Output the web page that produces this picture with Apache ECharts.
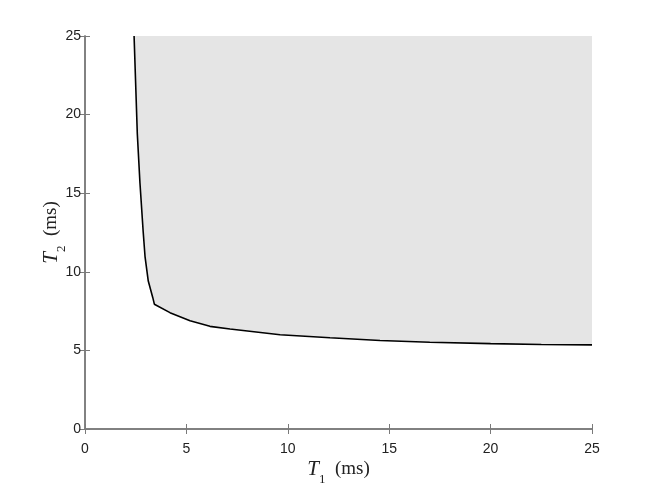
<!DOCTYPE html>
<html>
<head>
<meta charset="utf-8">
<script src="https://cdn.jsdelivr.net/npm/echarts@6/dist/echarts.min.js"></script>
<style>
  html, body { margin: 0; padding: 0; background: #fff; }
  #chart { width: 654px; height: 491px; }
</style>
</head>
<body>
<div id="chart"></div>
<script>
// boundary curve (T1, T2 in ms)
const t1Values = [2.42, 2.58, 2.71, 2.87, 2.96, 3.12, 3.34, 3.42, 4.19, 5.18, 6.16, 7.15, 9.62, 12.08, 14.55, 17.0, 20.0, 22.5, 25.0]
const t2Values = [25.0, 18.77, 15.65, 12.53, 10.97, 9.41, 8.37, 7.94, 7.40, 6.88, 6.53, 6.36, 6.0, 5.80, 5.63, 5.52, 5.43, 5.38, 5.35]

const boundary = t1Values.map((x, i) => [x, t2Values[i]])

const chart = echarts.init(document.getElementById('chart'))

// fresh objects for each axis
const frameLine = () => ({ show: true, lineStyle: { color: '#7a7a7a', width: 1.5 } })
// ticks pointing into the plot
const innerTick = () => ({ show: true, inside: true, length: 5, lineStyle: { color: '#7a7a7a', width: 1 } })
const labelStyle = { color: '#222', fontSize: 14, fontFamily: 'Liberation Sans, Arial, sans-serif' }

const titleRich = {
  t: { fontFamily: 'Liberation Serif, serif', fontStyle: 'italic', fontSize: 21, color: '#222', lineHeight: 24 },
  s: { fontFamily: 'Liberation Serif, serif', fontSize: 13, color: '#222', lineHeight: 24, verticalAlign: 'bottom', padding: [0, 0, -5, 0] },
  u: { fontFamily: 'Liberation Serif, serif', fontSize: 19, color: '#222', lineHeight: 24 }
}

const option = {
  animation: false,
  backgroundColor: '#fff',
  grid: { left: 85, right: 62, top: 36, bottom: 54 },
  xAxis: [
    {
      type: 'value', min: 0, max: 25, interval: 5,
      axisLine: frameLine(), axisTick: innerTick(),
      axisLabel: { ...labelStyle, margin: 13 },
      splitLine: { show: false },
      name: '{t|T}{s|1}{u|  (ms)}',
      nameLocation: 'middle', nameGap: 28, nameMoveOverlap: false,
      nameTextStyle: { rich: titleRich }
    },
    {
      type: 'value', position: 'top', min: 0, max: 25, interval: 5,
      axisLine: frameLine(), axisTick: innerTick(),
      axisLabel: { show: false }, splitLine: { show: false }
    }
  ],
  yAxis: [
    {
      type: 'value', min: 0, max: 25, interval: 5,
      axisLine: frameLine(), axisTick: innerTick(),
      axisLabel: { ...labelStyle, margin: 4 },
      splitLine: { show: false },
      name: '{t|T}{s|2}{u|  (ms)}',
      nameLocation: 'middle', nameGap: 22, nameRotate: 90, nameMoveOverlap: false,
      nameTextStyle: { rich: titleRich }
    },
    {
      type: 'value', position: 'right', min: 0, max: 25, interval: 5,
      axisLine: frameLine(), axisTick: innerTick(),
      axisLabel: { show: false }, splitLine: { show: false }
    }
  ],
  series: [
    {
      type: 'line',
      data: boundary,
      smooth: false,
      symbol: 'none',
      lineStyle: { color: '#000', width: 1.6 },
      areaStyle: { origin: 'end', color: '#e5e5e5', opacity: 1 },
      z: 1
    }
  ]
}

chart.setOption(option)
</script>
</body>
</html>
